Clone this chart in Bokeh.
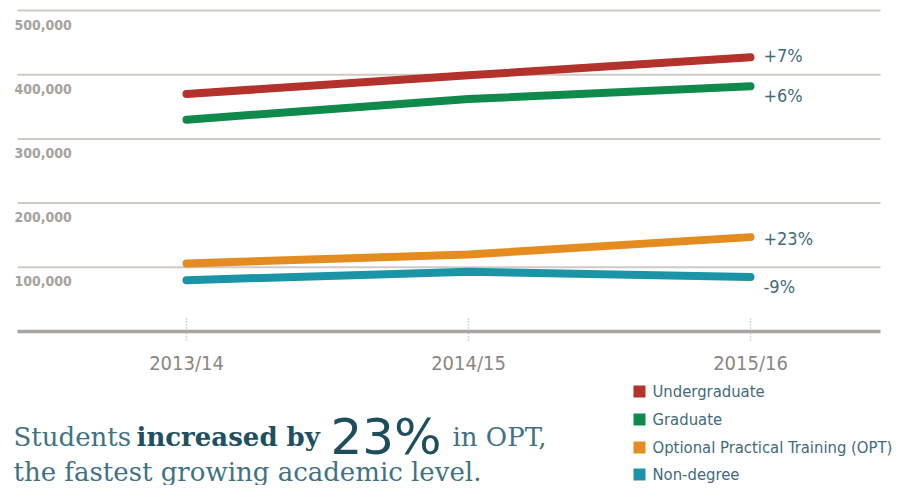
from bokeh.plotting import figure
from bokeh.models import Range1d
from bokeh.core.properties import value
from bokeh.embed import file_html
from bokeh.resources import INLINE

# ---------------- data ----------------
years = ["2013/14", "2014/15", "2015/16"]
undergraduate = [370000, 399000, 427000]
graduate = [330000, 362000, 382000]
opt = [106000, 120000, 147000]
non_degree = [80000, 93000, 85000]
changes = ["+7%", "+6%", "+23%", "-9%"]
series_names = ["Undergraduate", "Graduate", "Optional Practical Training (OPT)", "Non-degree"]
colors = ["#b3322b", "#0f8a4b", "#e48c1f", "#1a94a6"]
y_ticks = [100000, 200000, 300000, 400000, 500000]
y_tick_labels = ["100,000", "200,000", "300,000", "400,000", "500,000"]

# ---------------- geometry ----------------
W, H = 901, 485
X0, STEP = 186.0, 282.0            # pixel of first category, pixels per category
Y_ZERO, K = 331.0, 321.0 / 500000   # pixel of value 0, pixels per unit
x_start = -X0 / STEP
x_end = (W - X0) / STEP
y_top = Y_ZERO / K
y_bot = -(H - Y_ZERO) / K

def fx(px):
    return x_start + px / STEP

def fy(py):
    return y_top - py / K

COND = "DejaVu Sans Condensed"

p = figure(width=W, height=H, output_backend="svg", toolbar_location=None,
           x_range=Range1d(x_start, x_end), y_range=Range1d(y_bot, y_top),
           min_border=0, min_border_left=0, min_border_right=0,
           min_border_top=0, min_border_bottom=0)
p.axis.visible = False
p.grid.visible = False
p.outline_line_color = None
p.background_fill_color = "white"
p.border_fill_color = "white"

# gridlines
p.segment(x0=[fx(17)] * len(y_ticks), x1=[fx(880)] * len(y_ticks), y0=y_ticks, y1=y_ticks,
          line_color="#cfcac6", line_width=2)
p.segment(x0=[fx(17)], x1=[fx(880)], y0=[0], y1=[0], line_color="#aaa49f", line_width=3.5)

# y tick labels (below each gridline)
p.text(x=[fx(14)] * len(y_ticks), y=y_ticks, text=y_tick_labels, y_offset=14,
       text_font=value(COND), text_font_size="14px", text_color="#a8a29d",
       text_font_style="bold", text_align="left", text_baseline="middle")

# x tick marks (dotted) and labels
xs = list(range(len(years)))
p.segment(x0=xs, x1=xs, y0=[fy(318)] * 3, y1=[fy(341)] * 3,
          line_color="#b3ada8", line_width=1.5, line_dash="1 2")
p.text(x=xs, y=[fy(362)] * 3, text=years, text_font=value(COND), text_font_size="20px",
       text_color="#8b8580", text_align="center", text_baseline="middle")

# series lines
all_series = [undergraduate, graduate, opt, non_degree]
for vals, c in zip(all_series, colors):
    p.line(x=xs, y=vals, line_color=c, line_width=8, line_cap="round", line_join="round")

# end labels
label_offsets = [-2, 9, 1, 10]
for vals, lab, off in zip(all_series, changes, label_offsets):
    p.text(x=[xs[-1]], y=[vals[-1]], text=[lab], x_offset=13, y_offset=off,
           text_font=value(COND), text_font_size="18px", text_color="#3f6b7a",
           text_align="left", text_baseline="middle")

# legend
leg_y = [391, 419, 447, 474]
p.scatter(x=[fx(639)] * 4, y=[fy(v) for v in leg_y], marker="square", size=12,
          fill_color=colors, line_color=None)
p.text(x=[fx(652)] * 4, y=[fy(v) for v in leg_y], text=series_names,
       text_font=value(COND), text_font_size="16.5px", text_color="#3f6b7a",
       text_align="left", text_baseline="middle")

# headline text
SERIF = "DejaVu Serif"
BASE1, BASE2 = 436, 471
p.text(x=[fx(13)], y=[fy(BASE1)], text=["Students"], text_font=value(SERIF),
       text_font_size="26px", text_color="#3f7282", text_baseline="alphabetic")
p.text(x=[fx(136)], y=[fy(BASE1)], text=["increased by"], text_font=value(SERIF),
       text_font_size="26px", text_font_style="bold", text_color="#1f5061",
       text_baseline="alphabetic")
p.text(x=[fx(330)], y=[fy(BASE1)], text=["23%"], text_font=value("DejaVu Sans"),
       text_font_size="50px", text_color="#1d4e5e", text_baseline="alphabetic")
p.text(x=[fx(452)], y=[fy(BASE1)], text=["in OPT,"], text_font=value(SERIF),
       text_font_size="26px", text_color="#3f7282", text_baseline="alphabetic")
p.text(x=[fx(13)], y=[fy(BASE2)], text=["the fastest growing academic level."],
       text_font=value(SERIF), text_font_size="26px", text_color="#3f7282",
       text_baseline="alphabetic")

open("out.html", "w").write(file_html(p, INLINE))
